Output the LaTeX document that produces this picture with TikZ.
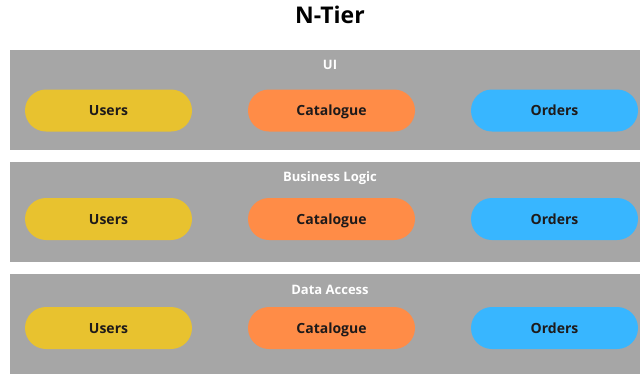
\documentclass[tikz,border=0pt]{standalone}
\usepackage{fontspec}
\setmainfont{Open Sans}
\usepackage{xcolor}
\definecolor{tiergray}{HTML}{A6A6A6}
\definecolor{usersyellow}{HTML}{E8C22F}
\definecolor{catorange}{HTML}{FF8C47}
\definecolor{ordersblue}{HTML}{38B6FF}
\definecolor{labeldark}{HTML}{1E1A1A}
\begin{document}
\begin{tikzpicture}[x=1pt,y=-1pt,
    tier/.style={fill=tiergray, minimum width=630pt, minimum height=100pt,
        inner sep=0pt},
    tiername/.style={font=\bfseries\fontsize{13}{15}\selectfont, text=white,
        text height=1em, text depth=0pt, inner sep=0pt},
    service/.style={rounded corners=21pt, minimum width=167pt,
        minimum height=42pt, inner sep=0pt, text=labeldark,
        font=\bfseries\fontsize{14}{16}\selectfont,
        text height=1em, text depth=0pt}]
    \useasboundingbox (0,0) rectangle (640,373);

    \node[font=\bfseries\fontsize{23}{26}\selectfont, text height=1em,
        text depth=0pt, inner sep=0pt] (title) at (330,18.5) {N-Tier};

    \foreach \tier/\name/\ty/\ny/\sy in {ui/UI/99.5/64/110.5,
        logic/Business Logic/212/176/219,
        data/Data Access/323.5/289/328}{
        \node[tier] (\tier) at (325,\ty) {};
        \node[tiername] (\tier-name) at (330,\ny) {\name};
        \node[service, fill=usersyellow] (\tier-users) at (108.5,\sy) {Users};
        \node[service, fill=catorange] (\tier-catalogue) at (331.5,\sy) {Catalogue};
        \node[service, fill=ordersblue] (\tier-orders) at (554.5,\sy) {Orders};
    }
\end{tikzpicture}
\end{document}
